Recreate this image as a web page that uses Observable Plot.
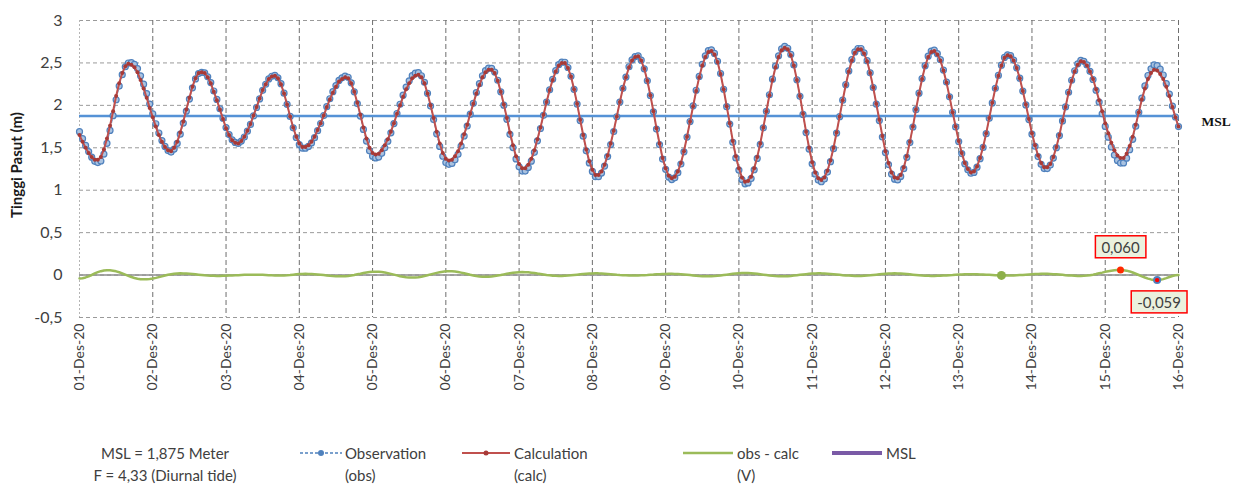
<!DOCTYPE html>
<html>
<head>
<meta charset="utf-8">
<script src="https://cdn.jsdelivr.net/npm/d3@7"></script>
<script src="https://cdn.jsdelivr.net/npm/@observablehq/plot@0.6"></script>
<style>
  html, body { margin: 0; padding: 0; background: #fff; }
  #wrap { width: 1237px; height: 485px; position: relative; overflow: hidden; }
  #legend { position: relative; width: 1237px; height: 75px; font-family: Lato, "Open Sans", sans-serif; font-size: 15px; color: #404040; }
  #legend .txt { position: absolute; top: 32px; line-height: 22px; white-space: nowrap; }
  #legend svg { position: absolute; top: 38px; overflow: visible; }
</style>
</head>
<body>
<div id="wrap">
  <div id="chart"></div>
  <div id="legend">
    <div class="txt" style="left:65px;width:200px;text-align:center;">MSL = 1,875 Meter<br>F = 4,33 (Diurnal tide)</div>
    <svg style="left:300px" width="42" height="10"><line x1="0" y1="5" x2="42" y2="5" stroke="#4F81BD" stroke-width="1.3" stroke-dasharray="3,2"/><circle cx="21" cy="5" r="3" fill="#4F81BD"/></svg>
    <div class="txt" style="left:345px">Observation<br>(obs)</div>
    <svg style="left:462px" width="48" height="10"><line x1="0" y1="5" x2="48" y2="5" stroke="#C0504D" stroke-width="2"/><circle cx="24" cy="5" r="2.5" fill="#A83A37"/></svg>
    <div class="txt" style="left:514px">Calculation<br>(calc)</div>
    <svg style="left:683px" width="50" height="10"><line x1="0" y1="5" x2="50" y2="5" stroke="#9BBB59" stroke-width="2.5"/></svg>
    <div class="txt" style="left:737px">obs - calc<br>(V)</div>
    <svg style="left:832px" width="50" height="10"><line x1="0" y1="5" x2="50" y2="5" stroke="#7A5AA6" stroke-width="4"/></svg>
    <div class="txt" style="left:886px">MSL</div>
  </div>
</div>
<script>
// ---- Data (hourly, 01-Des-20 00:00 .. 16-Des-20 00:00) ----
const dayLabels = ["01-Des-20","02-Des-20","03-Des-20","04-Des-20","05-Des-20","06-Des-20","07-Des-20","08-Des-20",
  "09-Des-20","10-Des-20","11-Des-20","12-Des-20","13-Des-20","14-Des-20","15-Des-20","16-Des-20"];
const yTicks = [-0.5, 0, 0.5, 1, 1.5, 2, 2.5, 3];
const msl = 1.875;

// Calculation (calc), metres
const calc = [
1.65,1.57,1.50,1.44,1.39,1.36,
1.36,1.39,1.48,1.61,1.76,1.93,2.11,2.26,2.38,2.46,2.49,
2.48,2.45,2.39,2.30,2.20,2.09,1.97,1.86,1.75,1.65,1.57,1.51,1.47,
1.46,1.50,1.57,1.68,1.81,1.95,2.09,2.22,2.32,2.38,
2.39,2.38,2.33,2.26,2.16,2.06,1.95,1.84,1.73,1.65,1.59,1.56,
1.55,1.58,1.63,1.70,1.78,1.88,1.98,2.08,2.18,2.25,2.31,2.34,
2.35,2.32,2.25,2.14,2.01,1.87,1.74,1.63,1.55,1.51,
1.51,1.53,1.57,1.63,1.71,1.79,1.88,1.98,2.07,2.15,2.22,2.28,2.31,2.33,
2.32,2.26,2.16,2.03,1.89,1.74,1.61,1.50,1.44,
1.42,1.43,1.47,1.53,1.60,1.69,1.79,1.90,2.00,2.10,2.19,2.26,2.32,2.35,
2.36,2.33,2.26,2.14,2.00,1.85,1.69,1.55,1.44,1.37,1.35,
1.36,1.40,1.46,1.55,1.66,1.77,1.90,2.02,2.14,2.24,2.33,2.39,2.42,
2.42,2.38,2.29,2.16,2.01,1.85,1.68,1.53,1.40,1.31,1.26,
1.26,1.30,1.37,1.47,1.60,1.74,1.89,2.04,2.18,2.30,2.40,2.47,2.50,
2.50,2.44,2.34,2.19,2.02,1.83,1.65,1.48,1.34,1.24,1.18,
1.18,1.22,1.30,1.41,1.55,1.70,1.87,2.04,2.20,2.33,2.45,2.53,2.57,
2.58,2.53,2.43,2.29,2.12,1.93,1.73,1.55,1.38,1.26,1.17,1.14,
1.16,1.22,1.32,1.46,1.63,1.81,1.99,2.17,2.33,2.47,2.57,2.63,
2.64,2.60,2.51,2.37,2.19,1.99,1.79,1.58,1.40,1.26,1.15,1.10,
1.11,1.16,1.26,1.39,1.55,1.74,1.93,2.12,2.30,2.45,2.57,2.65,2.68,
2.66,2.59,2.47,2.30,2.11,1.90,1.69,1.50,1.33,1.21,1.14,
1.12,1.15,1.23,1.35,1.50,1.68,1.87,2.06,2.24,2.40,2.53,2.62,2.66,
2.66,2.61,2.52,2.38,2.21,2.02,1.83,1.64,1.46,1.32,1.21,1.15,
1.14,1.18,1.27,1.40,1.57,1.75,1.95,2.14,2.31,2.46,2.57,2.63,
2.64,2.60,2.53,2.41,2.27,2.10,1.92,1.75,1.58,1.44,1.32,1.25,1.21,
1.22,1.28,1.38,1.51,1.67,1.85,2.03,2.20,2.35,2.47,2.56,2.59,
2.58,2.53,2.44,2.32,2.17,2.01,1.84,1.67,1.53,1.41,1.32,1.27,
1.27,1.31,1.39,1.51,1.65,1.82,1.98,2.15,2.29,2.40,2.48,2.52,
2.51,2.47,2.40,2.31,2.19,2.06,1.93,1.79,1.67,1.56,1.47,1.41,1.38,
1.38,1.43,1.52,1.63,1.77,1.92,2.07,2.20,2.31,2.38,2.42,
2.41,2.37,2.31,2.22,2.11,1.98,1.86,1.75
];

// Residual V as plotted (green curve), metres
const resid = [
-0.040,-0.037,-0.028,-0.015,0.001,0.019,0.034,0.046,0.054,0.057,
0.056,0.052,0.044,0.033,0.019,0.005,-0.009,-0.023,-0.034,-0.043,-0.048,-0.050,
-0.049,-0.045,-0.040,-0.033,-0.024,-0.015,-0.006,0.003,0.010,0.015,0.019,0.020,
0.019,0.018,0.016,0.013,0.009,0.005,0.001,-0.003,-0.006,-0.008,-0.009,-0.010,
-0.010,-0.009,-0.008,-0.006,-0.004,-0.003,-0.001,0.001,0.003,0.004,0.005,0.005,
0.005,0.004,0.003,0.001,-0.001,-0.003,-0.004,-0.005,-0.005,
-0.004,-0.002,0.001,0.005,0.009,0.012,0.014,0.015,
0.014,0.013,0.011,0.008,0.004,0.000,-0.004,-0.008,-0.011,-0.013,-0.014,-0.015,
-0.014,-0.011,-0.006,0.001,0.009,0.016,0.024,0.031,0.036,0.039,0.040,
0.039,0.035,0.030,0.023,0.014,0.005,-0.004,-0.013,-0.020,-0.025,-0.029,-0.030,
-0.029,-0.025,-0.019,-0.011,-0.002,0.008,0.017,0.026,0.034,0.040,0.044,0.045,
0.044,0.041,0.036,0.029,0.021,0.013,0.004,-0.004,-0.011,-0.016,-0.019,-0.020,
-0.019,-0.016,-0.012,-0.006,0.000,0.008,0.015,0.021,0.027,0.031,0.034,0.035,
0.034,0.032,0.028,0.024,0.018,0.013,0.007,0.001,-0.003,-0.007,-0.009,-0.010,
-0.010,-0.008,-0.006,-0.003,0.001,0.005,0.009,0.013,0.016,0.018,0.019,0.020,
0.020,0.018,0.016,0.014,0.011,0.008,0.004,0.001,-0.001,-0.003,-0.005,-0.005,
-0.005,-0.004,-0.003,-0.001,0.001,0.004,0.006,0.009,0.011,0.013,0.014,0.015,0.015,
0.014,0.013,0.011,0.008,0.004,0.000,-0.004,-0.008,-0.011,-0.013,-0.014,-0.015,
-0.014,-0.012,-0.009,-0.005,0.000,0.005,0.010,0.015,0.019,0.022,0.024,0.025,
0.024,0.022,0.019,0.015,0.010,0.005,0.000,-0.005,-0.009,-0.012,-0.014,-0.015,
-0.014,-0.013,-0.010,-0.006,-0.002,0.003,0.007,0.011,0.015,0.018,0.019,0.020,
0.020,0.018,0.016,0.014,0.011,0.007,0.003,-0.001,-0.004,-0.006,-0.008,-0.010,-0.010,
-0.010,-0.008,-0.006,-0.003,0.001,0.005,0.009,0.013,0.016,0.018,0.019,0.020,
0.019,0.018,0.016,0.013,0.009,0.005,0.001,-0.003,-0.006,-0.008,-0.009,-0.010,
-0.010,-0.009,-0.008,-0.006,-0.004,-0.001,0.001,0.004,0.006,0.008,0.009,0.010,0.010,
0.010,0.009,0.008,0.006,0.004,0.003,0.001,-0.001,-0.003,-0.004,-0.005,-0.005,
-0.005,-0.004,-0.002,0.000,0.002,0.005,0.008,0.010,0.012,0.014,0.015,0.015,
0.015,0.013,0.011,0.009,0.006,0.003,-0.001,-0.004,-0.006,-0.008,-0.010,-0.010,
-0.009,-0.006,-0.001,0.005,0.012,0.021,0.029,0.038,0.045,0.051,0.056,0.059,0.060,
0.058,0.052,0.043,0.030,0.016,0.001,-0.015,-0.029,-0.042,-0.051,-0.057,-0.059,
-0.056,-0.048,-0.036,-0.023,-0.011,-0.003,0.000
];

const markerHour = 302; // single enlarged marker seen on the V curve

// ---- Build table ----
const t0 = Date.UTC(2020, 11, 1);
const rows = calc.map((c, h) => ({
  t: new Date(t0 + h * 3600e3),
  calc: c,
  v: resid[h],
  obs: c - resid[h]
}));
const dayTicks = dayLabels.map((_, i) => new Date(t0 + i * 86400e3));
const fmtDay = d => dayLabels[Math.round((d - t0) / 86400e3)];
const fmtNum = d => String(d).replace(".", ",");
const fmtV = d => d.v.toFixed(3).replace(".", ",");
const maxPt = d3.greatest(rows, d => d.v);
const minPt = d3.least(rows, d => d.v);
const markPt = rows[markerHour];

const chart = Plot.plot({
  width: 1237,
  height: 410,
  marginLeft: 79,
  marginRight: 59,
  marginTop: 20,
  marginBottom: 93,
  style: { fontFamily: "Lato, 'Open Sans', sans-serif", color: "#404040", background: "#fff", overflow: "visible" },
  x: { type: "utc", domain: [dayTicks[0], dayTicks[dayTicks.length - 1]] },
  y: { domain: [-0.5, 3] },
  marks: [
    Plot.gridY(yTicks, { stroke: "#9a9a9a", strokeOpacity: 1, strokeDasharray: "4,3" }),
    Plot.gridX(dayTicks.slice(1), { stroke: "#6e6e6e", strokeOpacity: 1, strokeDasharray: "5,3" }),
    Plot.ruleX(dayTicks.slice(0, 1), { stroke: "#b5b5b5", strokeDasharray: "2,2" }),
    Plot.axisY(yTicks, { tickSize: 0, tickPadding: 17, tickFormat: fmtNum, fontSize: 16, label: null }),
    Plot.axisX(dayTicks, { tickSize: 0, tickPadding: 6, tickRotate: -90, tickFormat: fmtDay, fontSize: 14, label: null }),
    Plot.text(["Tinggi Pasut (m)"], { frameAnchor: "left", textAnchor: "middle", rotate: -90, dx: -62, dy: -4, fontSize: 15, fontWeight: "bold", fill: "#1a1a1a" }),
    Plot.ruleY([0], { stroke: "#8c8c8c", strokeWidth: 1.5 }),
    Plot.ruleY([msl], { stroke: "#5592D6", strokeWidth: 2.5 }),
    Plot.text([msl], { x: () => dayTicks[dayTicks.length - 1], y: d => d, text: () => "MSL", dx: 23, dy: 6, textAnchor: "start",
      fontFamily: "'Liberation Serif', serif", fontSize: 13.5, fontWeight: "bold", fill: "#111" }),
    Plot.line(rows, { x: "t", y: "v", stroke: "#9BBB59", strokeWidth: 2.5 }),
    Plot.line(rows, { x: "t", y: "obs", stroke: "#4F81BD", strokeWidth: 1, strokeDasharray: "3,2" }),
    Plot.dot(rows, { x: "t", y: "obs", r: 3, stroke: "#4F81BD", strokeWidth: 1.2, fill: "#A9C2E0" }),
    Plot.line(rows, { x: "t", y: "calc", stroke: "#C0504D", strokeWidth: 2 }),
    Plot.dot(rows, { x: "t", y: "calc", r: 2, fill: "#A83A37" }),
    Plot.dot([markPt], { x: "t", y: "v", r: 4.5, fill: "#8DB04A" }),
    Plot.dot([maxPt], { x: "t", y: "v", r: 3.5, fill: "#FF2A00" }),
    Plot.dot([minPt], { x: "t", y: "v", r: 4, fill: "#4F81BD" }),
    Plot.dot([minPt], { x: "t", y: "v", r: 2.2, fill: "#FF0000" }),
    Plot.text([maxPt], { x: "t", y: "v", text: fmtV, dy: -22, fontSize: 15, fill: "#404040" }),
    Plot.text([minPt], { x: "t", y: "v", text: fmtV, dx: 2, dy: 23, fontSize: 15, fill: "#404040" })
  ]
});
document.getElementById("chart").appendChild(chart);

// boxes behind the two data-label texts
const labelTexts = new Set([fmtV(maxPt), fmtV(minPt)]);
Array.from(chart.querySelectorAll("text")).filter(t => labelTexts.has(t.textContent)).forEach(t => {
  const b = t.getBBox();
  const r = document.createElementNS("http://www.w3.org/2000/svg", "rect");
  r.setAttribute("x", b.x - 6);
  r.setAttribute("y", b.y - 2);
  r.setAttribute("width", b.width + 12);
  r.setAttribute("height", b.height + 4);
  r.setAttribute("fill", "#EBF1DE");
  r.setAttribute("stroke", "#FF0000");
  r.setAttribute("stroke-width", "1.5");
  const tr = t.getAttribute("transform");
  if (tr) r.setAttribute("transform", tr);
  t.parentNode.insertBefore(r, t);
});
</script>
</body>
</html>
